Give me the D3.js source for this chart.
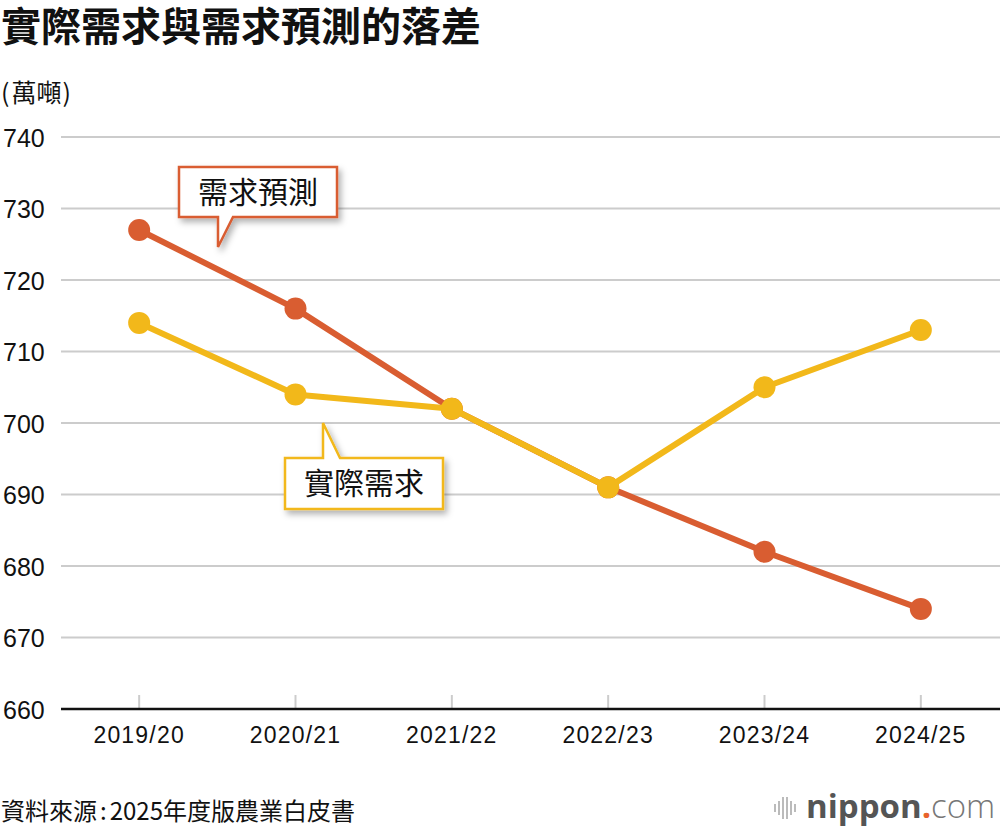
<!DOCTYPE html>
<html><head><meta charset="utf-8">
<script src="https://cdn.jsdelivr.net/npm/d3@7"></script>
<style>
body{margin:0;background:#fff;}
svg{display:block;}
</style></head>
<body>
<svg id="chart" width="1000" height="832"></svg>
<script>
const categories = ["2019/20","2020/21","2021/22","2022/23","2023/24","2024/25"];
const forecast = [727,716,702,691,682,674];
const actual = [714,704,702,691,705,713];
const yTicks = [660,670,680,690,700,710,720,730,740];
const title = "實際需求與需求預測的落差";
const unitParts = ["(","萬噸",")"];
const sourceParts = ["資料來源",":","2025年度版農業白皮書"];
const seriesNames = ["需求預測","實際需求"];
const colors = {forecast:"#d95d31", actual:"#f2b81a"};

const svg = d3.select("#chart");
const cjk = "'Noto Sans CJK TC','Noto Sans CJK SC',sans-serif";
const latin = "'Liberation Sans',Arial,sans-serif";

const x = d3.scalePoint().domain(categories).range([61,999]).padding(0.5);
const y = d3.scaleLinear().domain([660,740]).range([709,137]);

const defs = svg.append("defs");
const f = defs.append("filter").attr("id","shadow").attr("x","-20%").attr("y","-20%").attr("width","150%").attr("height","160%");
f.append("feDropShadow").attr("dx",3).attr("dy",4).attr("stdDeviation",3).attr("flood-color","#000").attr("flood-opacity",0.3);

// title
svg.append("text").attr("x",1).attr("y",41).text(title)
  .style("font-family",cjk).style("font-weight",700).style("font-size","40px").attr("fill","#111");
const ut = svg.append("text").attr("x",1).attr("y",102)
  .style("font-family",cjk).style("font-size","25px").attr("fill","#111");
ut.append("tspan").text(unitParts[0]);
ut.append("tspan").attr("dx",2).text(unitParts[1]);
ut.append("tspan").attr("dx",1).text(unitParts[2]);

// grid
svg.append("g").selectAll("line").data(yTicks.slice(1)).join("line")
  .attr("x1",61).attr("x2",1000).attr("y1",d=>y(d)).attr("y2",d=>y(d))
  .attr("stroke","#cccccc").attr("stroke-width",2);

// y labels
svg.append("g").selectAll("text").data(yTicks).join("text")
  .attr("x",3).attr("y",d=>y(d)+9.5).text(d=>d)
  .style("font-family",latin).style("font-size","25px").attr("fill","#111");

// x ticks
svg.append("g").selectAll("line").data(categories).join("line")
  .attr("x1",d=>x(d)).attr("x2",d=>x(d)).attr("y1",695).attr("y2",709)
  .attr("stroke","#cccccc").attr("stroke-width",2);
svg.append("line").attr("x1",61).attr("x2",1000).attr("y1",709).attr("y2",709)
  .attr("stroke","#111").attr("stroke-width",2.5);

svg.append("g").selectAll("text").data(categories).join("text")
  .attr("x",d=>x(d)).attr("y",743).attr("text-anchor","middle").text(d=>d)
  .style("font-family",latin).style("font-size","23px").style("letter-spacing","1.2px").attr("fill","#111");

// lines
const line = d3.line().x((d,i)=>x(categories[i])).y(d=>y(d));
function drawSeries(vals,col){
  svg.append("path").datum(vals).attr("d",line).attr("fill","none")
    .attr("stroke",col).attr("stroke-width",6).attr("stroke-linejoin","round");
  svg.append("g").selectAll("circle").data(vals).join("circle")
    .attr("cx",(d,i)=>x(categories[i])).attr("cy",d=>y(d)).attr("r",11).attr("fill",col);
}
drawSeries(forecast,colors.forecast);
drawSeries(actual,colors.actual);

// callouts
function callout(bx,by,bw,bh,tri,col,label){
  const g = svg.append("g").attr("filter","url(#shadow)");
  const [p1,p2,tip] = tri;
  let d;
  if (tip[1] > by+bh) {
    d = `M${bx},${by}H${bx+bw}V${by+bh}H${p2}L${tip[0]},${tip[1]}L${p1},${by+bh}H${bx}Z`;
  } else {
    d = `M${bx},${by}H${p1}L${tip[0]},${tip[1]}L${p2},${by}H${bx+bw}V${by+bh}H${bx}Z`;
  }
  g.append("path").attr("d",d).attr("fill","#fff").attr("stroke",col).attr("stroke-width",2.5).attr("stroke-linejoin","miter");
  svg.append("text").attr("x",bx+bw/2).attr("y",by+bh/2+10.5).attr("text-anchor","middle").text(label)
    .style("font-family",cjk).style("font-size","30px").attr("fill","#111");
}
callout(179,167,158,50,[218,233,[218,247]],colors.forecast,seriesNames[0]);
callout(285,458,158,51,[323,340,[323,423]],colors.actual,seriesNames[1]);

// source
const st = svg.append("text").attr("x",1).attr("y",820)
  .style("font-family",cjk).style("font-size","24px").attr("fill","#111");
st.append("tspan").text(sourceParts[0]);
st.append("tspan").attr("dx",3).text(sourceParts[1]);
st.append("tspan").attr("dx",3).text(sourceParts[2]);

// logo
const lg = svg.append("g");
const bars = [[774,8],[778,14],[782,22],[786,22],[790,14],[794,8]];
lg.selectAll("rect").data(bars).join("rect")
  .attr("x",d=>d[0]).attr("y",d=>808-d[1]/2).attr("width",2).attr("height",d=>d[1]).attr("fill","#bbb");
const t = lg.append("text").attr("x",806).attr("y",818).style("font-family","'Open Sans',sans-serif").style("font-size","33px");
t.append("tspan").text("nippon").attr("fill","#555").style("font-weight",700);
t.append("tspan").text(".").attr("fill","#e8632b").style("font-weight",700);
t.append("tspan").text("com").attr("fill","#777").style("font-weight",300);
</script>
</body></html>
